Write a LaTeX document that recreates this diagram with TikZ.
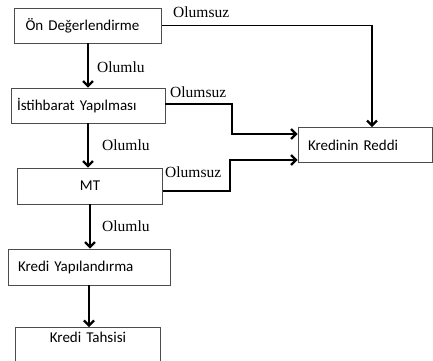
\documentclass[tikz,border=0pt]{standalone}
\usepackage{fontspec}
\setmainfont{Liberation Serif}
\newfontfamily\boxfont{Carlito}
\usetikzlibrary{arrows.meta}
\begin{document}
\begin{tikzpicture}[x=1pt,y=-1pt,
  box/.style={draw=black!70, line width=0.7pt, rectangle, minimum height=35pt, inner ysep=0pt, font=\boxfont\fontsize{15}{18}\selectfont},
  lbl/.style={anchor=west, inner sep=0pt, font=\fontsize{15.5}{18}\selectfont},
  arr/.style={line width=2.3pt, -{Straight Barb[length=5pt,width=10pt]}},
  hairline/.style={line width=0.8pt},
]
\useasboundingbox (0,0) rectangle (433,360);
\clip (0,0) rectangle (433,360);

\node[box, text width=125pt, inner xsep=11pt, align=left] (b1) at (88,25.5) {Ön Değerlendirme};
\node[box, text width=142pt, inner xsep=6pt, align=left] (b2) at (88,105.5) {İstihbarat Yapılması};
\node[box, text width=145pt, inner xsep=0pt, align=center, minimum height=36pt] (b3) at (90,186) {MT};
\node[box, text width=142pt, inner xsep=10pt, align=left, minimum height=36pt] (b4) at (89,267) {Kredi Yapılandırma};
\node[box, text width=145pt, inner xsep=0pt, align=center, minimum height=0pt, anchor=north, text height=15pt, text depth=30pt] (b5) at (88,327) {Kredi Tahsisi};
\node[box, text width=114pt, inner xsep=10pt, align=left] (b6) at (365,145) {Kredinin Reddi};

\draw[arr] (b1.south) -- (b1.south |- b2.north);
\draw[arr] (b2.south) -- (b2.south |- b3.north);
\draw[arr] (b3.south) -- (b3.south |- b4.north);
\draw[arr] (b4.south) -- (b4.south |- b5.north);

\coordinate (c1) at (372,25.5);
\draw[hairline] (b1.east) -- (c1);
\draw[arr] ([yshift=0.4pt]c1) -- (c1 |- b6.north);

\coordinate (r2) at (0,134);
\draw[arr] ([yshift=1.5pt]b2.east) -- (232,104) -- (232,134) -- (b6.west |- r2);

\coordinate (r3) at (0,160);
\draw[arr] ([yshift=-5pt]b3.east) -- (230,191) -- (230,160) -- (b6.west |- r3);

\node[lbl] (l1) at (173,12) {Olumsuz};
\node[lbl] (l2) at (97,67) {Olumlu};
\node[lbl] (l3) at (170,92) {Olumsuz};
\node[lbl] (l4) at (102,145) {Olumlu};
\node[lbl] (l5) at (165,172) {Olumsuz};
\node[lbl] (l6) at (102,226) {Olumlu};
\end{tikzpicture}
\end{document}
